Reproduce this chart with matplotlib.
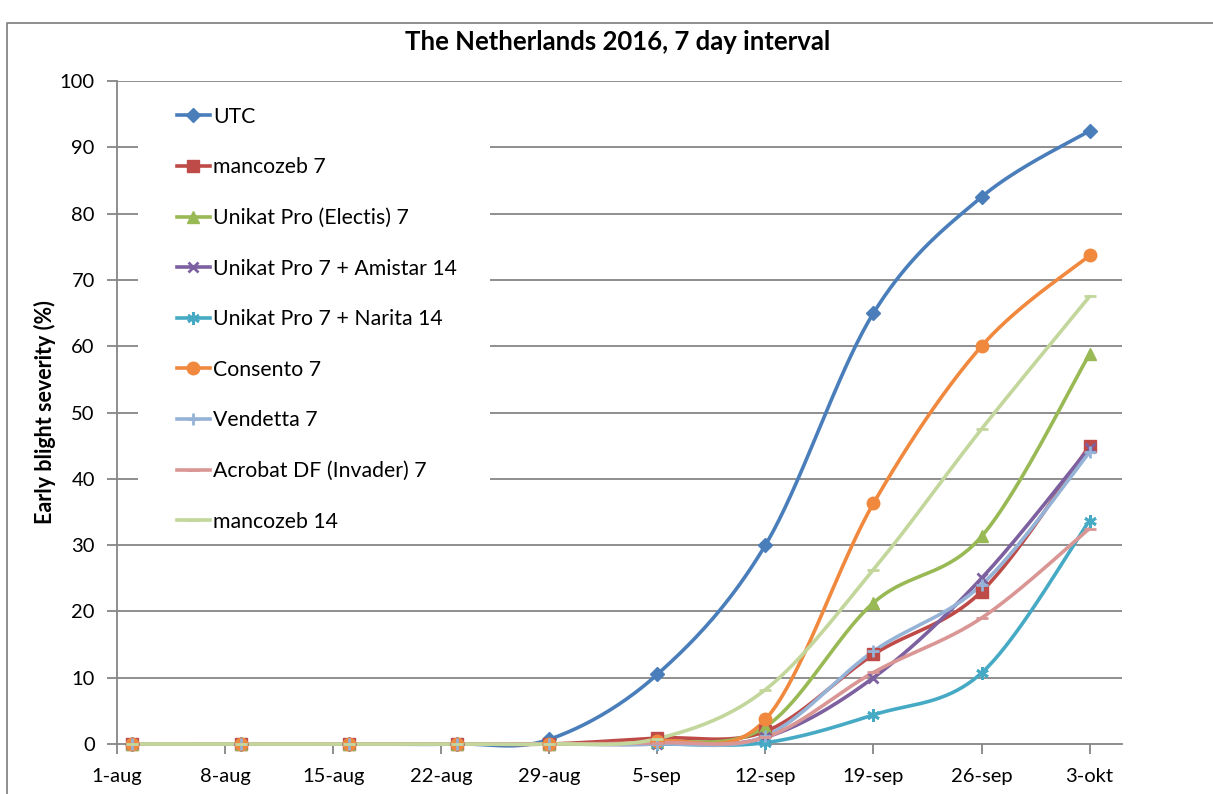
import numpy as np
import pandas as pd
import matplotlib
matplotlib.use('Agg')
import matplotlib.pyplot as plt
import matplotlib.dates as mdates
from matplotlib.lines import Line2D
from matplotlib.patches import Rectangle

plt.rcParams['font.family'] = ['Lato', 'DejaVu Sans']

# data
datums = ['2016-08-02', '2016-08-09', '2016-08-16', '2016-08-23', '2016-08-29',
          '2016-09-05', '2016-09-12', '2016-09-19', '2016-09-26', '2016-10-03']

utc = [0, 0, 0, 0, 0.7, 10.5, 30, 65, 82.5, 92.5]
mancozeb_7 = [0, 0, 0, 0, 0, 0.9, 1.9, 13.5, 23, 45]
electis_7 = [0, 0, 0, 0, 0, 0.3, 2.6, 21.3, 31.3, 58.8]
amistar_14 = [0, 0, 0, 0, 0, 0, 1.0, 10, 25, 44.7]
narita_14 = [0, 0, 0, 0, 0, 0, 0.2, 4.4, 10.7, 33.7]
consento_7 = [0, 0, 0, 0, 0, 0.4, 3.7, 36.3, 60, 73.7]
vendetta_7 = [0, 0, 0, 0, 0, 0, 1.2, 14, 24, 44]
acrobat_7 = [0, 0, 0, 0, 0, 0.2, 1.0, 10.8, 19, 32.5]
mancozeb_14 = [0, 0, 0, 0, 0, 0.8, 8.2, 26.3, 47.5, 67.5]

tick_datums = ['2016-08-01', '2016-08-08', '2016-08-15', '2016-08-22', '2016-08-29',
               '2016-09-05', '2016-09-12', '2016-09-19', '2016-09-26', '2016-10-03']
tick_labels = ['1-aug', '8-aug', '15-aug', '22-aug', '29-aug',
               '5-sep', '12-sep', '19-sep', '26-sep', '3-okt']

series = [
    ('UTC', utc, '#4A7EBB', 'D', 7),
    ('mancozeb 7', mancozeb_7, '#BE4B48', 's', 8.5),
    ('Unikat Pro (Electis) 7', electis_7, '#98B954', '^', 8.5),
    ('Unikat Pro 7 + Amistar 14', amistar_14, '#7D60A0', 'x', 7),
    ('Unikat Pro 7 + Narita 14', narita_14, '#46AAC5', (6, 2, 0), 9),
    ('Consento 7', consento_7, '#F0883E', 'o', 9),
    ('Vendetta 7', vendetta_7, '#95B3D7', '+', 9),
    ('Acrobat DF (Invader) 7', acrobat_7, '#D99694', '_', 9),
    ('mancozeb 14', mancozeb_14, '#C3D69B', '_', 9),
]


# Excel-achtige smoothing (bezier, 1/6 van de buren)
def smooth(x, y, n=40):
    x = np.asarray(x, float)
    y = np.asarray(y, float)
    px = np.concatenate([[x[0]], x, [x[-1]]])
    py = np.concatenate([[y[0]], y, [y[-1]]])
    t = np.linspace(0, 1, n)
    xs, ys = [], []
    for i in range(1, len(px) - 2):
        x0, y0 = px[i], py[i]
        x3, y3 = px[i + 1], py[i + 1]
        x1 = x0 + (px[i + 1] - px[i - 1]) / 6
        y1 = y0 + (py[i + 1] - py[i - 1]) / 6
        x2 = x3 - (px[i + 2] - px[i]) / 6
        y2 = y3 - (py[i + 2] - py[i]) / 6
        b0 = (1 - t) ** 3
        b1 = 3 * (1 - t) ** 2 * t
        b2 = 3 * (1 - t) * t ** 2
        b3 = t ** 3
        xs.append(b0 * x0 + b1 * x1 + b2 * x2 + b3 * x3)
        ys.append(b0 * y0 + b1 * y1 + b2 * y2 + b3 * y3)
    return np.concatenate(xs), np.concatenate(ys)


x = mdates.date2num(pd.to_datetime(datums))
xt = mdates.date2num(pd.to_datetime(tick_datums))

fig = plt.figure(figsize=(12.13, 7.94), dpi=100)
ax = fig.add_axes([117 / 1213, 50 / 794, 1005 / 1213, 663 / 794])

# grid
for v in range(10, 101, 10):
    ax.axhline(v, color='#868686', lw=1.3, zorder=0)

# witte achtergrond van de legenda (bedekt de gridlijnen)
ax.add_patch(Rectangle((0.021, 0.315), 0.35, 0.674, transform=ax.transAxes,
                       facecolor='white', edgecolor='none', zorder=1))

handles = []
for naam, waarden, kleur, marker, ms in series:
    sx, sy = smooth(x, waarden)
    ax.plot(sx, sy, color=kleur, lw=2.6, solid_capstyle='round', clip_on=False, zorder=3)
    mew = 2 if marker in ('x', '+', '_', (6, 2, 0)) else 1
    ax.plot(x, waarden, ls='none', marker=marker, ms=ms, color=kleur, mec=kleur,
            mew=mew, clip_on=False, zorder=4)
    handles.append(Line2D([], [], color=kleur, lw=2.6, marker=marker, ms=ms,
                          mec=kleur, mew=mew, label=naam))

ax.set_xlim(xt[0], xt[0] + 65.1)
ax.set_ylim(0, 100)
ax.set_xticks(xt)
ax.set_xticklabels(tick_labels)
ax.set_yticks(range(0, 101, 10))

for s in ['top', 'right']:
    ax.spines[s].set_visible(False)
for s in ['left', 'bottom']:
    ax.spines[s].set_color('#868686')
    ax.spines[s].set_linewidth(1.3)
ax.tick_params(axis='both', colors='#868686', length=7, width=1.3, labelsize=14.5,
               labelcolor='black')
ax.tick_params(axis='x', pad=10)
ax.tick_params(axis='y', pad=9)

ax.set_ylabel('Early blight severity (%)', fontsize=15.5, fontweight='bold', va='center')
ax.yaxis.set_label_coords(-0.0716, 0.5)
fig.text(0.509, 0.947, 'The Netherlands 2016, 7 day interval', fontsize=18.5,
         fontweight='bold', ha='center', va='center')

leg = ax.legend(handles=handles, loc='upper left', bbox_to_anchor=(0.051, 0.974),
                frameon=False, fontsize=15.3, labelspacing=1.44, handlelength=1.55,
                handletextpad=0.15, borderaxespad=0)
leg.set_zorder(5)

# kader van de grafiek
fig.add_artist(Line2D([7 / 1213, 7 / 1213, 1.0], [0, 1 - 23 / 794, 1 - 23 / 794],
                      color='#868686', lw=1.3, transform=fig.transFigure))

fig.savefig('out.png', dpi=100)
